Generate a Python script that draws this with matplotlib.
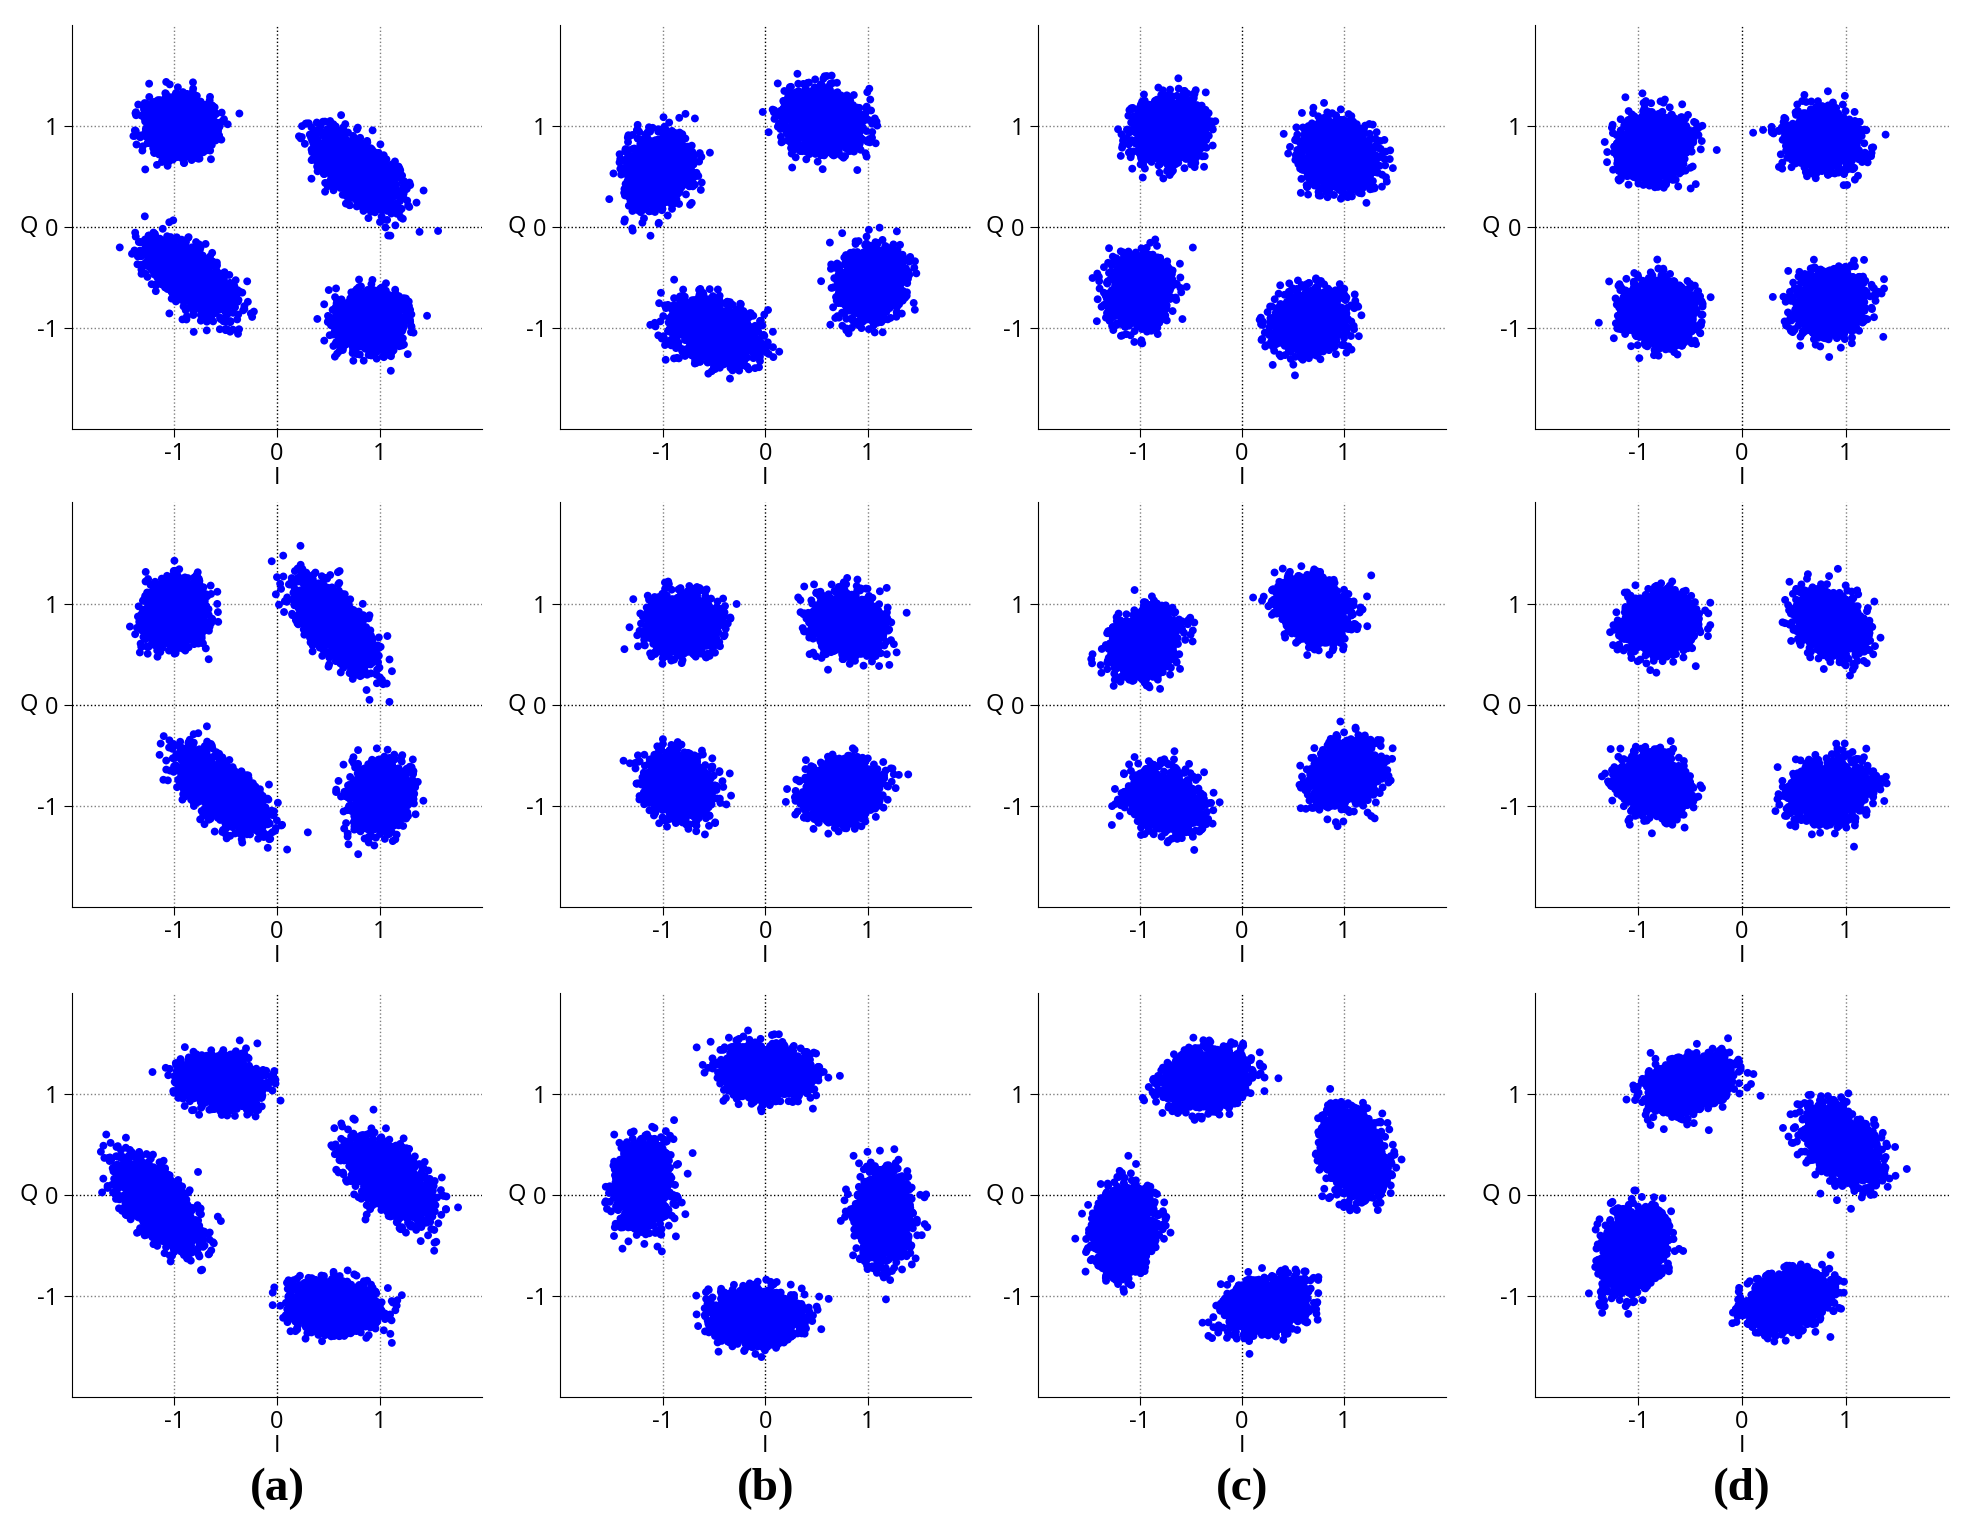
import matplotlib

matplotlib.use("Agg")
import matplotlib.pyplot as plt
import numpy as np

plt.rcParams["axes.unicode_minus"] = False
plt.rcParams["font.family"] = ["Open Sans", "DejaVu Sans"]

# Cluster parameters, one list per panel (row-major, cols a-d).
# Each cluster: (centre_x, centre_y, sd_major, sd_minor, angle_deg)
ROW1 = [
    [(-0.95, 1.00, 0.15, 0.13, 0), (0.80, 0.55, 0.24, 0.11, -40), (-0.85, -0.50, 0.24, 0.11, -40), (0.90, -0.95, 0.16, 0.13, 0)],
    [(-1.05, 0.55, 0.17, 0.14, 70), (0.55, 1.05, 0.18, 0.14, -15), (-0.50, -1.05, 0.20, 0.13, -20), (1.05, -0.55, 0.17, 0.14, 60)],
    [(-0.70, 0.95, 0.16, 0.14, 20), (0.95, 0.70, 0.17, 0.14, -30), (-1.00, -0.65, 0.16, 0.14, 80), (0.65, -0.95, 0.17, 0.14, 20)],
    [(-0.85, 0.80, 0.16, 0.14, 30), (0.80, 0.85, 0.16, 0.13, -15), (-0.80, -0.85, 0.16, 0.14, -20), (0.85, -0.75, 0.16, 0.14, 40)],
]
ROW2 = [
    [(-1.00, 0.90, 0.15, 0.13, 70), (0.55, 0.80, 0.24, 0.11, -50), (-0.55, -0.85, 0.24, 0.11, -40), (1.00, -0.90, 0.15, 0.13, 80)],
    [(-0.80, 0.80, 0.16, 0.13, 20), (0.80, 0.80, 0.16, 0.13, -40), (-0.85, -0.80, 0.16, 0.13, -30), (0.75, -0.85, 0.17, 0.13, 20)],
    [(-0.95, 0.60, 0.16, 0.13, 50), (0.70, 0.95, 0.16, 0.13, -30), (-0.75, -0.95, 0.16, 0.13, -20), (1.00, -0.70, 0.16, 0.13, 45)],
    [(-0.80, 0.80, 0.16, 0.13, 20), (0.85, 0.80, 0.16, 0.13, -40), (-0.85, -0.80, 0.16, 0.13, -30), (0.85, -0.85, 0.17, 0.13, 15)],
]
ROW3 = [
    [(-0.55, 1.12, 0.18, 0.11, -10), (1.10, 0.15, 0.24, 0.12, -45), (-1.15, -0.10, 0.24, 0.12, -50), (0.55, -1.10, 0.19, 0.11, -5)],
    [(0.00, 1.20, 0.20, 0.12, -5), (1.15, -0.20, 0.20, 0.12, 85), (-1.20, 0.10, 0.20, 0.12, 85), (-0.10, -1.20, 0.20, 0.12, 0)],
    [(-0.35, 1.15, 0.19, 0.12, 10), (1.10, 0.40, 0.20, 0.13, -70), (-1.15, -0.35, 0.20, 0.13, 80), (0.25, -1.10, 0.19, 0.12, 15)],
    [(-0.50, 1.10, 0.19, 0.12, 15), (0.95, 0.50, 0.19, 0.13, -50), (-1.05, -0.55, 0.19, 0.13, 70), (0.45, -1.05, 0.19, 0.12, 15)],
]
PANELS = [ROW1, ROW2, ROW3]
COL_LABELS = ["a", "b", "c", "d"]
POINTS_PER_CLUSTER = 1800

COL_X = [(0.0365, 0.2455), (0.285, 0.494), (0.528, 0.736), (0.781, 0.992)]
ROW_Y = [(0.72, 0.984), (0.408, 0.672), (0.088, 0.352)]

rng = np.random.default_rng(3)


def cloud(cx, cy, s1, s2, ang):
    pts = rng.standard_normal((POINTS_PER_CLUSTER, 2)) * [s1, s2]
    t = np.deg2rad(ang)
    rot = np.array([[np.cos(t), -np.sin(t)], [np.sin(t), np.cos(t)]])
    pts = pts @ rot.T
    return pts[:, 0] + cx, pts[:, 1] + cy


fig = plt.figure(figsize=(19.65, 15.32), dpi=100)
for r, row in enumerate(PANELS):
    for c, clusters in enumerate(row):
        x0, x1 = COL_X[c]
        y0, y1 = ROW_Y[r]
        ax = fig.add_axes([x0, y0, x1 - x0, y1 - y0])
        for v in (-1, 1):
            ax.axvline(v, color="gray", ls=":", lw=1, zorder=0)
            ax.axhline(v, color="gray", ls=":", lw=1, zorder=0)
        ax.axvline(0, color="black", ls=":", lw=1, zorder=0)
        ax.axhline(0, color="black", ls=":", lw=1, zorder=0)
        for cl in clusters:
            xs, ys = cloud(*cl)
            ax.scatter(xs, ys, s=32, color="#0000ff", edgecolors="none", zorder=2)
        ax.set_xlim(-2, 2)
        ax.set_ylim(-2, 2)
        ax.set_xticks([-1, 0, 1])
        ax.set_yticks([-1, 0, 1])
        ax.spines["top"].set_visible(False)
        ax.spines["right"].set_visible(False)
        ax.tick_params(direction="out", length=6, labelsize=17)
        ax.set_xlabel("I", fontsize=17, labelpad=0)
        ax.set_ylabel("Q", fontsize=17, rotation=0, labelpad=2, va="center")
        ax.yaxis.set_label_coords(-0.105, 0.5)

for c, lab in enumerate(COL_LABELS):
    x0, x1 = COL_X[c]
    fig.text((x0 + x1) / 2, 0.028, f"({lab})", ha="center", va="center",
             fontsize=34, fontweight="bold", family="Liberation Serif")

fig.savefig("out.png", dpi=100)
